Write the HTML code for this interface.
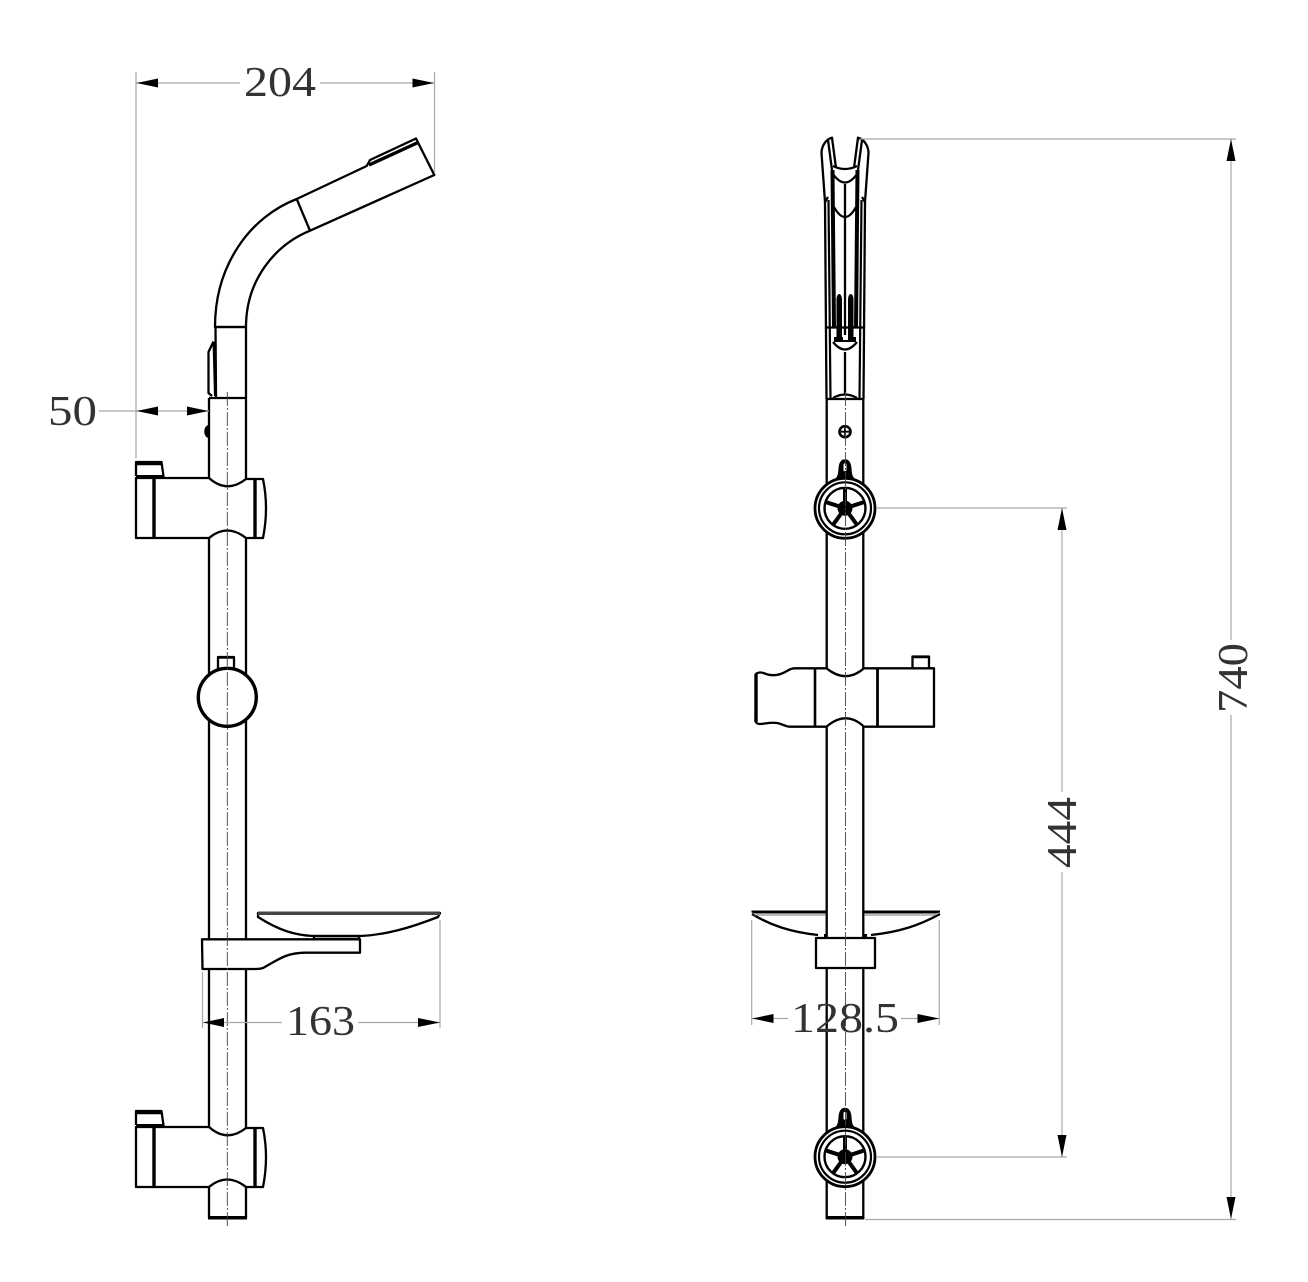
<!DOCTYPE html>
<html><head><meta charset="utf-8">
<style>
html,body{margin:0;padding:0;background:#fff}
svg{display:block}
text{font-family:"Liberation Serif",serif;font-size:42px;fill:#333}
.k{fill:none;stroke:#000;stroke-width:2.300;stroke-linejoin:round}
.b{fill:none;stroke:#000;stroke-width:3.400}
.w{fill:#fff;stroke:#000;stroke-width:2.300;stroke-linejoin:round}
.d{fill:none;stroke:#a8a8a8;stroke-width:1.200}
.c{fill:none;stroke:#444;stroke-width:.9;stroke-dasharray:14 2 2 2}
</style></head><body>
<svg width="1308" height="1282" viewBox="0 0 1308 1282" xmlns="http://www.w3.org/2000/svg">
<defs>
<g id="spoke"><line x1="0" y1="0" x2="0" y2="-21" stroke="#000" stroke-width="4"/></g>
<g id="wheel">
<path d="M-11-28C-7-32-7-34-6.500-40-6-47-3-49 0-49 3-49 6-47 6.500-40 7-34 7-32 11-28Z" fill="#000"/>
<rect x="-1.500" y="-45" width="3" height="8" fill="#fff" rx="1.500"/>
<circle r="30" fill="#fff" stroke="#000" stroke-width="2.800"/>
<circle r="26" fill="none" stroke="#000" stroke-width="2.200"/>
<circle r="20.500" fill="none" stroke="#000" stroke-width="2.400"/>
<circle r="7.500" fill="#000"/>
<use href="#spoke"/><use href="#spoke" transform="rotate(72)"/><use href="#spoke" transform="rotate(144)"/><use href="#spoke" transform="rotate(216)"/><use href="#spoke" transform="rotate(288)"/>
</g>
<g id="sideBracket">
<path class="k" d="M136 478H209Q227 494 246 479H263Q269 508 263 538H246Q227 523 209 538H136Z" style="fill:#fff"/>
<line class="b" x1="154" y1="478" x2="154" y2="538"/>
<line class="b" x1="255" y1="478" x2="255" y2="538"/>
<path class="k" d="M136 476V462H161.500L163.500 476.500H136" style="fill:#fff"/>
<line x1="136" y1="463.500" x2="161" y2="463.500" stroke="#000" stroke-width="3.500"/>
<line x1="136" y1="476" x2="163" y2="476" stroke="#000" stroke-width="2"/>
</g>
</defs>

<!-- LEFT VIEW: rail -->
<line class="k" x1="209" y1="398" x2="209" y2="1218"/>
<line class="k" x1="246" y1="398" x2="246" y2="1218"/>
<line class="k" x1="209" y1="398" x2="246" y2="398"/>
<rect x="208" y="1216" width="39" height="3.500" fill="#000"/>

<!-- head -->
<path class="k" d="M215 327C215 265 250 217 296.700 199L366.700 166 370 160 416 138.500 434.300 175 310 230.700C275 245 246 280 246 327Z"/>
<line class="k" x1="296.700" y1="199" x2="310" y2="230.700"/>
<line class="k" x1="215" y1="327" x2="246" y2="327"/>
<line class="k" x1="215.500" y1="327" x2="216" y2="398"/>
<line class="k" x1="246" y1="327" x2="246" y2="398"/>
<line x1="369" y1="165" x2="417" y2="143" stroke="#000" stroke-width="3.400"/>
<path class="k" d="M213.500 341.500 208.500 352V393L212 396"/>
<line x1="214" y1="342" x2="215.500" y2="396" stroke="#000" stroke-width="3"/>
<path d="M208 425C203 427 203 436 208 438Z" fill="#000"/>

<!-- brackets -->
<use href="#sideBracket"/>
<use href="#sideBracket" transform="translate(0 649)"/>

<!-- knob -->
<rect class="w" x="218" y="657" width="16" height="15"/>
<line x1="218" y1="657.500" x2="234" y2="657.500" stroke="#000" stroke-width="2.500"/>
<circle cx="227.300" cy="697.300" r="29" fill="#fff" stroke="#000" stroke-width="3.400"/>

<!-- soap dish side -->
<path class="w" d="M258 913H440L438 917C410 928 385 935 360 936H313C295 935 280 931 258 917Z"/>
<rect x="258" y="911.500" width="182" height="3.500" fill="#444"/>
<path class="k" d="M314 936H359V939H314Z"/>
<path class="w" d="M202 939.300H360V952.700H305C285 953 278 960 263 968 260 969 258 969 256 969H202.500Z"/>

<!-- centerline left -->
<line class="c" x1="227.300" y1="392" x2="227.300" y2="1226"/>

<!-- RIGHT VIEW: rail -->
<line class="k" x1="826.700" y1="399" x2="826.700" y2="1219"/>
<line class="k" x1="863.300" y1="399" x2="863.300" y2="1219"/>
<line class="k" x1="826.700" y1="399" x2="863.300" y2="399"/>
<rect x="826" y="1216" width="38" height="3.500" fill="#000"/>

<!-- head front -->
<path class="k" d="M826.500 399 825 202 821.500 153C821.500 146 826 139 832 137.700L836 168"/>
<path class="k" d="M863.500 399 865 202 868.500 153C868.500 146 864 139 858 137.700L854 168"/>
<line class="k" x1="825" y1="202" x2="828" y2="197"/>
<line class="k" x1="865" y1="202" x2="862" y2="197"/>
<line class="k" x1="828" y1="140" x2="832" y2="170"/>
<line class="k" x1="862" y1="140" x2="858" y2="170"/>
<path class="k" d="M833 166Q845 172 857 166"/>
<path class="k" d="M833 174Q845 191 857 174"/>
<path class="k" d="M834 207Q845 227 856 207"/>
<line x1="832.500" y1="170" x2="834" y2="328" stroke="#000" stroke-width="4"/>
<line x1="857.500" y1="170" x2="856" y2="328" stroke="#000" stroke-width="4"/>
<line x1="828.500" y1="200" x2="830.500" y2="399" stroke="#000" stroke-width="2.200"/>
<line x1="861.500" y1="200" x2="859.500" y2="399" stroke="#000" stroke-width="2.200"/>
<line class="k" x1="845" y1="184" x2="845" y2="335"/>
<path d="M836.500 337V300C836.500 292 842 292 842 300V337ZM848 337V300C848 292 853.500 292 853.500 300V337Z" fill="#000"/>
<line x1="825.500" y1="327.500" x2="864" y2="327.500" stroke="#000" stroke-width="2.200"/>
<rect x="834" y="337" width="22" height="5" fill="#000"/>
<rect x="843" y="337" width="5" height="3" fill="#fff"/>
<path class="k" d="M833 342Q845 357 857 342"/>
<line class="k" x1="845" y1="352" x2="845" y2="394"/>
<path class="k" d="M833 398Q845 391 857 398"/>
<!-- screw -->
<circle cx="845" cy="431.700" r="5.500" fill="#fff" stroke="#000" stroke-width="2.600"/>
<path d="M841 431.700H849M845 427.700V435.700" stroke="#000" stroke-width="1.800"/>

<!-- wheels -->
<use href="#wheel" transform="translate(845 508.300)"/>
<use href="#wheel" transform="translate(845 1156.700)"/>

<!-- front bracket -->
<rect class="w" x="912.500" y="656.500" width="16.500" height="14"/>
<line x1="912.500" y1="657" x2="929" y2="657" stroke="#000" stroke-width="2.600"/>
<path class="w" d="M756 674C758 672 762 672 766 674 775 677 782 674 787 671 790 669 792 668.300 795 668.300H826.500Q846 684 864 668.300H934V726.700H864Q846 710 826.500 726.700H790C785 726.500 783 724 777 723 770 722 765 724 760 724 757 724 756 723 755.500 721Z"/>
<line class="b" x1="756" y1="674" x2="756" y2="722"/>
<line x1="815" y1="668" x2="815" y2="727" stroke="#000" stroke-width="2.600"/>
<line x1="877.500" y1="668" x2="877.500" y2="727" stroke="#000" stroke-width="2.800"/>

<!-- dish front -->
<path class="k" d="M752 914C770 925 790 932 818 935"/>
<path class="k" d="M940 914C920 925 900 932 871 935"/>
<path d="M751.500 910.500H826V913.500H755L751.500 912.500ZM864 910.500H940V912.500L936 913.500H864Z" fill="#000"/>
<path d="M754 915H826M864 915H936" fill="none" stroke="#777" stroke-width="1"/>
<rect class="w" x="816" y="938" width="59" height="30"/>
<rect x="824" y="934" width="3" height="4" fill="#000"/><rect x="864" y="934" width="3" height="4" fill="#000"/>

<!-- centerline right -->
<line class="c" x1="845.500" y1="392" x2="845.500" y2="1226"/>

<!-- DIMENSIONS -->
<g class="d">
<path d="M136 72V458M434.500 72V172"/>
<path d="M136.500 83H240M320 83H434"/>
<path d="M99 411H209"/>
<path d="M202.500 972V1028M440 920V1028M203 1022.500H282M358 1022.500H440"/>
<path d="M751.700 920V1025M939.300 920V1025M752 1018.500H788M901 1018.500H939"/>
<path d="M860 139H1236M865 1219.500H1236M1231 139V640M1231 715V1219"/>
<path d="M877 508H1067M877 1157H1067M1062 508V792M1062 872V1157"/>
</g>
<g fill="#000">
<path d="M136.500 83 158 78.500V87.500ZM434 83 412.500 78.500V87.500Z"/>
<path d="M136.500 411 158 406.500V415.500ZM208.500 411 187 406.500V415.500Z"/>
<path d="M203 1022.500 224 1018V1027ZM440 1022.500 418 1018V1027Z"/>
<path d="M752 1018.500 773.500 1014V1023ZM939.300 1018.500 917.500 1014V1023Z"/>
<path d="M1231 139 1226.500 161H1235.500ZM1231 1219 1226.500 1197H1235.500Z"/>
<path d="M1062 508 1057.500 530H1066.500ZM1062 1157 1057.500 1135H1066.500Z"/>
</g>
<text x="244" y="96" textLength="72" lengthAdjust="spacingAndGlyphs">204</text>
<text x="48" y="425" textLength="49" lengthAdjust="spacingAndGlyphs">50</text>
<text x="286" y="1035" textLength="69" lengthAdjust="spacingAndGlyphs">163</text>
<text x="791" y="1032" textLength="108" lengthAdjust="spacingAndGlyphs">128.5</text>
<text transform="translate(1076 868) rotate(-90)" textLength="71" lengthAdjust="spacingAndGlyphs">444</text>
<text transform="translate(1247 713) rotate(-90)" textLength="70" lengthAdjust="spacingAndGlyphs">740</text>
</svg>
</body></html>
